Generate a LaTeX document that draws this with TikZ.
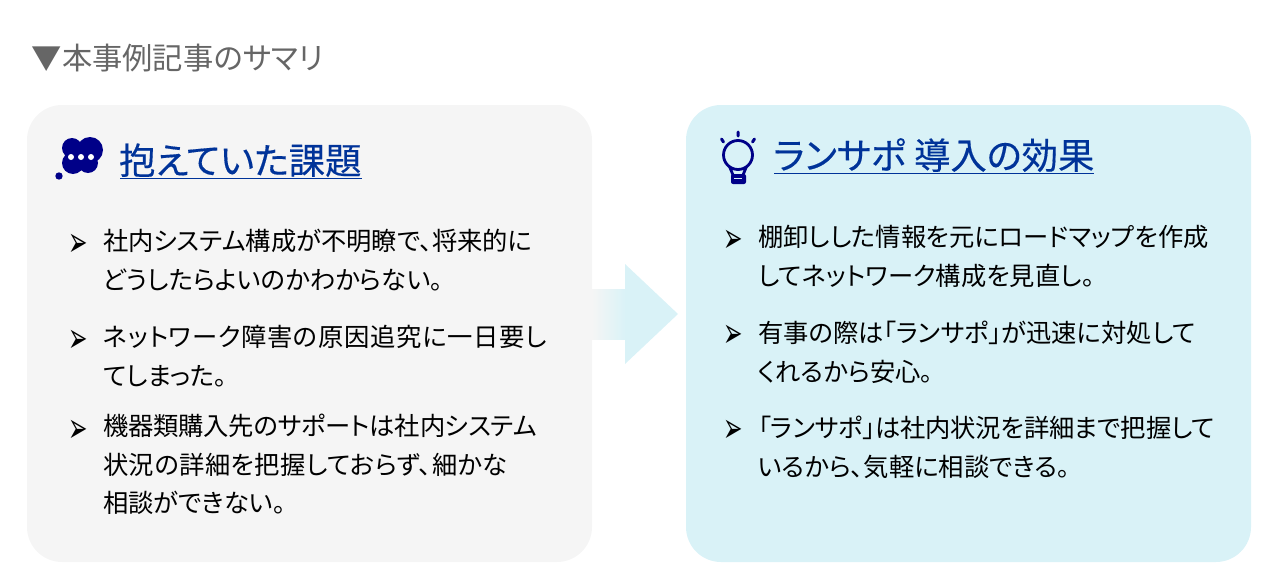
\documentclass[tikz,border=0pt]{standalone}
\usepackage{fontspec}
\setmainfont[RawFeature=+palt]{Noto Sans CJK JP}
\newfontfamily\headfont[RawFeature=+palt,FakeBold=0.35]{Noto Sans CJK JP}
\newfontfamily\markfont{DejaVu Sans}
\usetikzlibrary{positioning}
\definecolor{paneGray}{HTML}{F5F5F5}
\definecolor{paneBlue}{HTML}{D9F2F7}
\definecolor{headBlue}{HTML}{003399}
\definecolor{iconBlue}{HTML}{000088}
\definecolor{titleGray}{HTML}{666666}
\newcommand{\spaced}[2]{{\addfontfeature{LetterSpace=#1}#2}}

\begin{document}
\begin{tikzpicture}[x=1pt,y=-1pt]
    % styles
    \tikzset{
        pane/.style={rounded corners=35pt,inner sep=0pt,minimum width=565pt,minimum height=457pt},
        heading/.style={anchor=base west,inner sep=0pt,text=headBlue,font=\headfont\fontsize{36.3}{36.3}\selectfont},
        item/.style={anchor=north west,inner sep=0pt,align=left,font=\fontsize{25.3}{38.5}\selectfont},
        bullet/.style={anchor=center,inner sep=0pt,transform shape,xscale=.75,yscale=1.35,font=\markfont\fontsize{31}{31}\selectfont},
        rule/.style={draw=headBlue,line width=1.6pt}
    }
    \useasboundingbox (0,0) rectangle (1280,586);

    % title
    \node[anchor=base west,inner sep=0pt,text=titleGray,font=\fontsize{30.3}{30.3}\selectfont] (title) at (31.5,70) {▼本事例記事のサマリ};

    % panes
    \node[pane,fill=paneGray] (left)  at (309.5,333.5) {};
    \node[pane,fill=paneBlue] (right) at (968.5,333.5) {};

    % arrow between panes
    \fill[left color=paneGray,right color=paneBlue] (592,289) rectangle (626,339);
    \fill[paneBlue] (625,264) -- (678,314) -- (625,364) -- cycle;

    % left heading with icon
    \fill[iconBlue] (72,148) circle (10) (90,150) circle (13) (73,163) circle (11) (88,163) circle (10) (80,155) circle (12);
    \fill[iconBlue] (59,176) circle (3.7);
    \fill[white] (71,157) circle (3) (81,157) circle (3) (91,157) circle (3);
    \node[heading] (probhead) at (119,174) {抱えていた課題};
    \draw[rule] (120,178.5) -- (362,178.5);

    % right heading with icon
    \draw[iconBlue,line width=2.8pt] (738,155) circle (14.5);
    \draw[iconBlue,line width=2.8pt] (729.5,166.5) -- (733,175) (746.5,166.5) -- (743,175);
    \fill[iconBlue,rounded corners=2pt] (731,174) rectangle (746,184);
    \fill[paneBlue] (734,177.5) rectangle (742,179);
    \draw[iconBlue,line width=3pt,line cap=round] (738,132) -- (738,136) (721.5,139) -- (723.5,142) (754.5,139) -- (752.5,142);
    \node[heading] (effhead) at (773,169) {ランサポ 導入の効果};
    \draw[rule] (774,173.5) -- (1094,173.5);

    % left items
    \node[bullet] (m1) at (78,245) {➢};
    \node[item] (p1) at (103,229) {社内システム構成が不明瞭で、将来的に\\どうしたらよいのかわからない。};
    \node[bullet] (m2) at (78,341) {➢};
    \node[item] (p2) at (103,325) {\spaced{2.8}{ネットワーク障害の原因追究に一日要し}\\てしまった。};
    \node[bullet] (m3) at (78,431) {➢};
    \node[item] (p3) at (103,414) {\spaced{-0.8}{機器類購入先のサポートは社内システム}\\\spaced{1.8}{状況の詳細を把握しておらず、細かな}\\相談ができない。};

    % right items
    \node[bullet] (m4) at (733,241) {➢};
    \node[item] (p4) at (758,225) {棚卸しした情報を元にロードマップを作成\\してネットワーク構成を見直し。};
    \node[bullet] (m5) at (733,336) {➢};
    \node[item] (p5) at (758,321) {有事の際は「ランサポ」が迅速に対処して\\くれるから安心。};
    \node[bullet] (m6) at (733,431) {➢};
    \node[item] (p6) at (758,416) {\spaced{-0.6}{「ランサポ」は社内状況を詳細まで把握して}\\いるから、気軽に相談できる。};
\end{tikzpicture}
\end{document}
